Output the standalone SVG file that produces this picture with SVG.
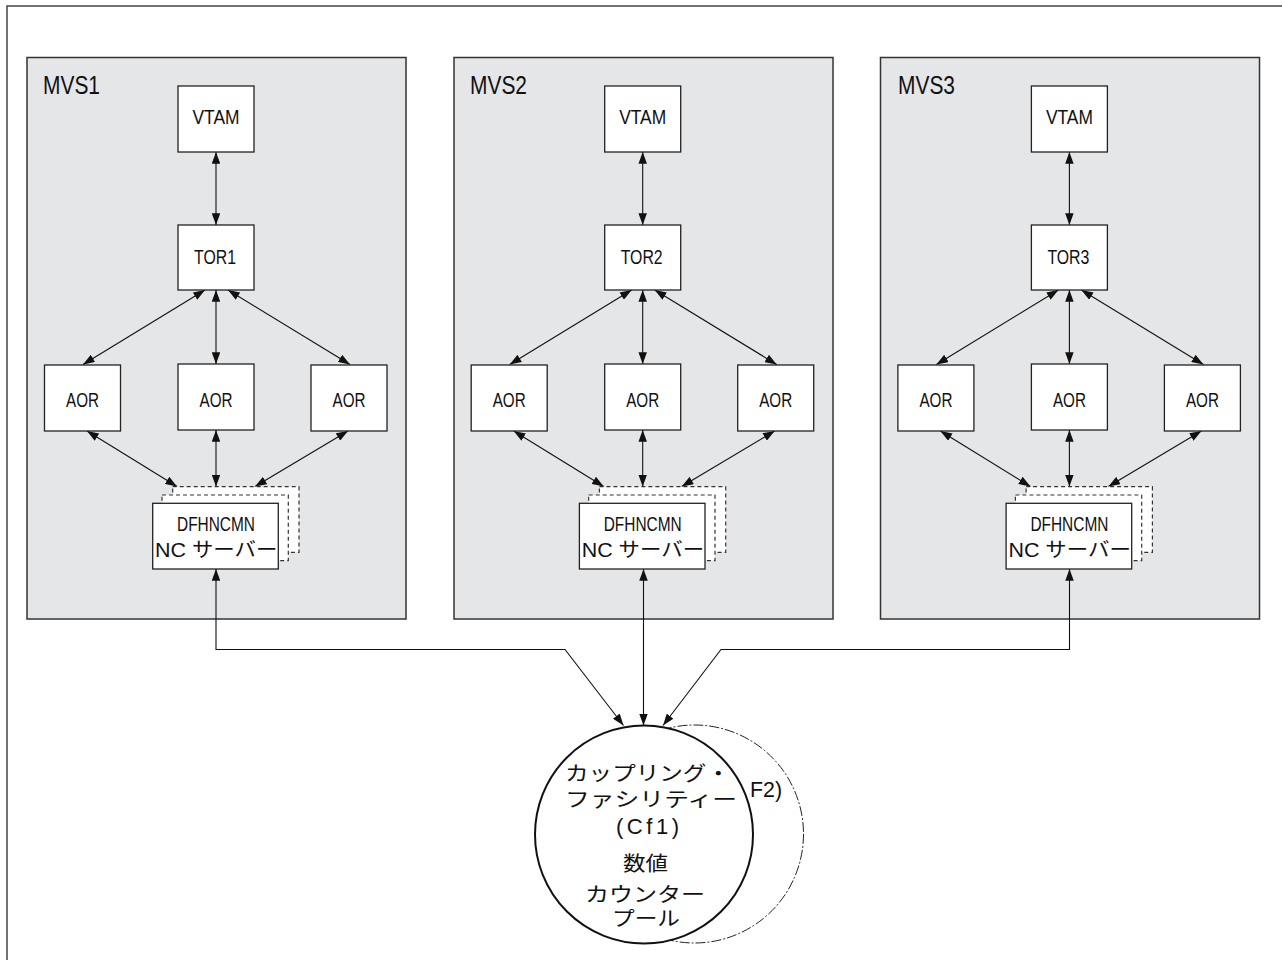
<svg xmlns="http://www.w3.org/2000/svg" width="1282" height="960" viewBox="0 0 1282 960">
<style>
.panel{fill:#e5e6e8;stroke:#333;stroke-width:1.5}
.box{fill:#fff;stroke:#222;stroke-width:1.3}
.dbox{fill:#fff;stroke:#333;stroke-width:1.2;stroke-dasharray:4 3}
.lbl{font-family:"Liberation Sans","Noto Sans CJK JP",sans-serif;font-size:20px;fill:#111;text-anchor:middle}
.jp{font-family:"Noto Sans CJK JP","Liberation Sans",sans-serif;font-size:20px;fill:#111;text-anchor:middle}
.title{font-family:"Liberation Sans",sans-serif;font-size:25px;fill:#111}
.con{fill:none;stroke:#111;stroke-width:1.1}
</style>
<defs>
<marker id="ah" viewBox="0 0 11 8" refX="11" refY="4" markerWidth="12" markerHeight="8.5" markerUnits="userSpaceOnUse" orient="auto-start-reverse"><path d="M0,0 L11,4 L0,8 z" fill="#111"/></marker>
</defs>
<rect x="7" y="6" width="1290" height="970" fill="#fff" stroke="#444" stroke-width="1.5"/>

<g id="mvs1">
<rect class="panel" x="27" y="57.5" width="379" height="561.5"/>
<text class="title" x="43" y="94" textLength="57" lengthAdjust="spacingAndGlyphs">MVS1</text>
</g>
<g id="mvs2">
<rect class="panel" x="454" y="57.5" width="379" height="561.5"/>
<text class="title" x="470" y="94" textLength="57" lengthAdjust="spacingAndGlyphs">MVS2</text>
</g>
<g id="mvs3">
<rect class="panel" x="880.5" y="57.5" width="379" height="561.5"/>
<text class="title" x="898" y="94" textLength="57" lengthAdjust="spacingAndGlyphs">MVS3</text>
</g>

<g id="connectors">
<g transform="translate(0,0)">
<line class="con" x1="216" y1="152" x2="216" y2="225" marker-start="url(#ah)" marker-end="url(#ah)"/>
<line class="con" x1="205" y1="290" x2="83" y2="364.5" marker-start="url(#ah)" marker-end="url(#ah)"/>
<line class="con" x1="216" y1="290" x2="216" y2="364" marker-start="url(#ah)" marker-end="url(#ah)"/>
<line class="con" x1="228" y1="290" x2="350" y2="364.5" marker-start="url(#ah)" marker-end="url(#ah)"/>
<line class="con" x1="87" y1="431" x2="177" y2="486.5" marker-start="url(#ah)" marker-end="url(#ah)"/>
<line class="con" x1="216" y1="430" x2="216" y2="486.5" marker-start="url(#ah)" marker-end="url(#ah)"/>
<line class="con" x1="348" y1="431" x2="255" y2="486.5" marker-start="url(#ah)" marker-end="url(#ah)"/>
</g>
<g transform="translate(426.7,0)">
<line class="con" x1="216" y1="152" x2="216" y2="225" marker-start="url(#ah)" marker-end="url(#ah)"/>
<line class="con" x1="205" y1="290" x2="83" y2="364.5" marker-start="url(#ah)" marker-end="url(#ah)"/>
<line class="con" x1="216" y1="290" x2="216" y2="364" marker-start="url(#ah)" marker-end="url(#ah)"/>
<line class="con" x1="228" y1="290" x2="350" y2="364.5" marker-start="url(#ah)" marker-end="url(#ah)"/>
<line class="con" x1="87" y1="431" x2="177" y2="486.5" marker-start="url(#ah)" marker-end="url(#ah)"/>
<line class="con" x1="216" y1="430" x2="216" y2="486.5" marker-start="url(#ah)" marker-end="url(#ah)"/>
<line class="con" x1="348" y1="431" x2="255" y2="486.5" marker-start="url(#ah)" marker-end="url(#ah)"/>
</g>
<g transform="translate(853.4,0)">
<line class="con" x1="216" y1="152" x2="216" y2="225" marker-start="url(#ah)" marker-end="url(#ah)"/>
<line class="con" x1="205" y1="290" x2="83" y2="364.5" marker-start="url(#ah)" marker-end="url(#ah)"/>
<line class="con" x1="216" y1="290" x2="216" y2="364" marker-start="url(#ah)" marker-end="url(#ah)"/>
<line class="con" x1="228" y1="290" x2="350" y2="364.5" marker-start="url(#ah)" marker-end="url(#ah)"/>
<line class="con" x1="87" y1="431" x2="177" y2="486.5" marker-start="url(#ah)" marker-end="url(#ah)"/>
<line class="con" x1="216" y1="430" x2="216" y2="486.5" marker-start="url(#ah)" marker-end="url(#ah)"/>
<line class="con" x1="348" y1="431" x2="255" y2="486.5" marker-start="url(#ah)" marker-end="url(#ah)"/>
</g>
<path class="con" d="M216,569 V649.5 H565 L623.5,725.5" marker-start="url(#ah)" marker-end="url(#ah)"/>
<path class="con" d="M643.5,569 V725.5" marker-start="url(#ah)" marker-end="url(#ah)"/>
<path class="con" d="M1069.5,569 V649.5 H721 L663,725.5" marker-start="url(#ah)" marker-end="url(#ah)"/>
</g>

<g id="vtam1"><rect class="box" x="178" y="86" width="76" height="66"/><text class="lbl" x="216" y="124" textLength="47" lengthAdjust="spacingAndGlyphs">VTAM</text></g>
<g id="tor1"><rect class="box" x="178" y="225" width="76" height="65"/><text class="lbl" x="215" y="263.5" textLength="42" lengthAdjust="spacingAndGlyphs">TOR1</text></g>
<g id="aor1a"><rect class="box" x="44.5" y="365" width="76" height="66"/><text class="lbl" x="82.5" y="407" textLength="33" lengthAdjust="spacingAndGlyphs">AOR</text></g>
<g id="aor1b"><rect class="box" x="178" y="364" width="76" height="66"/><text class="lbl" x="216" y="406.5" textLength="33" lengthAdjust="spacingAndGlyphs">AOR</text></g>
<g id="aor1c"><rect class="box" x="311" y="365" width="76" height="66"/><text class="lbl" x="349" y="407" textLength="33" lengthAdjust="spacingAndGlyphs">AOR</text></g>
<g id="nc1">
<rect class="dbox" x="172.7" y="486.7" width="126.3" height="65.6"/>
<rect class="dbox" x="162" y="495" width="126.3" height="65.6"/>
<rect class="box" x="152.7" y="503.3" width="125.6" height="65.7"/>
<text class="lbl" x="216" y="531" textLength="78" lengthAdjust="spacingAndGlyphs">DFHNCMN</text>
<text class="lbl" x="155" y="557" style="text-anchor:start" textLength="122.5" lengthAdjust="spacingAndGlyphs">NC サーバー</text>
</g>

<g id="vtam2"><rect class="box" x="604.7" y="86" width="76" height="66"/><text class="lbl" x="642.7" y="124" textLength="47" lengthAdjust="spacingAndGlyphs">VTAM</text></g>
<g id="tor2"><rect class="box" x="604.7" y="225" width="76" height="65"/><text class="lbl" x="641.7" y="263.5" textLength="42" lengthAdjust="spacingAndGlyphs">TOR2</text></g>
<g id="aor2a"><rect class="box" x="471.2" y="365" width="76" height="66"/><text class="lbl" x="509.2" y="407" textLength="33" lengthAdjust="spacingAndGlyphs">AOR</text></g>
<g id="aor2b"><rect class="box" x="604.7" y="364" width="76" height="66"/><text class="lbl" x="642.7" y="406.5" textLength="33" lengthAdjust="spacingAndGlyphs">AOR</text></g>
<g id="aor2c"><rect class="box" x="737.7" y="365" width="76" height="66"/><text class="lbl" x="775.7" y="407" textLength="33" lengthAdjust="spacingAndGlyphs">AOR</text></g>
<g id="nc2">
<rect class="dbox" x="599.4" y="486.7" width="126.3" height="65.6"/>
<rect class="dbox" x="588.7" y="495" width="126.3" height="65.6"/>
<rect class="box" x="579.4" y="503.3" width="125.6" height="65.7"/>
<text class="lbl" x="642.7" y="531" textLength="78" lengthAdjust="spacingAndGlyphs">DFHNCMN</text>
<text class="lbl" x="581.7" y="557" style="text-anchor:start" textLength="122.5" lengthAdjust="spacingAndGlyphs">NC サーバー</text>
</g>

<g id="vtam3"><rect class="box" x="1031.4" y="86" width="76" height="66"/><text class="lbl" x="1069.4" y="124" textLength="47" lengthAdjust="spacingAndGlyphs">VTAM</text></g>
<g id="tor3"><rect class="box" x="1031.4" y="225" width="76" height="65"/><text class="lbl" x="1068.4" y="263.5" textLength="42" lengthAdjust="spacingAndGlyphs">TOR3</text></g>
<g id="aor3a"><rect class="box" x="897.9" y="365" width="76" height="66"/><text class="lbl" x="935.9" y="407" textLength="33" lengthAdjust="spacingAndGlyphs">AOR</text></g>
<g id="aor3b"><rect class="box" x="1031.4" y="364" width="76" height="66"/><text class="lbl" x="1069.4" y="406.5" textLength="33" lengthAdjust="spacingAndGlyphs">AOR</text></g>
<g id="aor3c"><rect class="box" x="1164.4" y="365" width="76" height="66"/><text class="lbl" x="1202.4" y="407" textLength="33" lengthAdjust="spacingAndGlyphs">AOR</text></g>
<g id="nc3">
<rect class="dbox" x="1026.1" y="486.7" width="126.3" height="65.6"/>
<rect class="dbox" x="1015.4" y="495" width="126.3" height="65.6"/>
<rect class="box" x="1006.1" y="503.3" width="125.6" height="65.7"/>
<text class="lbl" x="1069.4" y="531" textLength="78" lengthAdjust="spacingAndGlyphs">DFHNCMN</text>
<text class="lbl" x="1008.4" y="557" style="text-anchor:start" textLength="122.5" lengthAdjust="spacingAndGlyphs">NC サーバー</text>
</g>

<g id="cf2">
<circle cx="694.5" cy="834" r="109" fill="#fff" stroke="#222" stroke-width="1" stroke-dasharray="10 2 2 2"/>
<text class="lbl" x="750" y="797" style="text-anchor:start;font-size:22px" textLength="32" lengthAdjust="spacingAndGlyphs">F2)</text>
</g>
<g id="cf1">
<circle cx="644" cy="834.5" r="109" fill="#fff" stroke="#111" stroke-width="2"/>
<text class="jp" x="647.5" y="781" textLength="165" lengthAdjust="spacingAndGlyphs">カップリング・</text>
<text class="jp" x="651" y="807" textLength="172" lengthAdjust="spacingAndGlyphs">ファシリティー</text>
<text class="lbl" x="647.5" y="834" style="font-size:22px" textLength="63" lengthAdjust="spacing">(Cf1)</text>
<text class="jp" x="645.5" y="871" textLength="45" lengthAdjust="spacingAndGlyphs">数値</text>
<text class="jp" x="645" y="902" textLength="120" lengthAdjust="spacingAndGlyphs">カウンター</text>
<text class="jp" x="646" y="926" textLength="68" lengthAdjust="spacingAndGlyphs">プール</text>
</g>
</svg>
